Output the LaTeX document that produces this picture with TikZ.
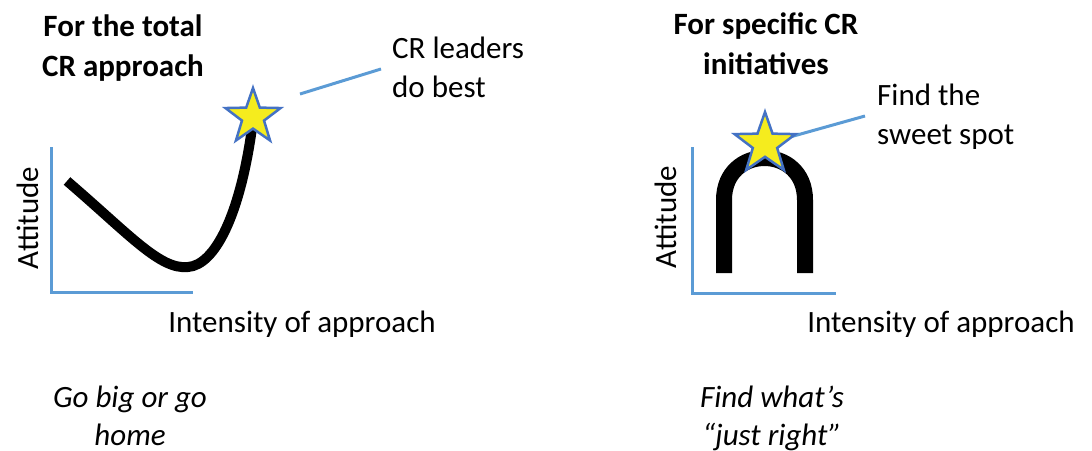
\documentclass[tikz,border=0pt]{standalone}
\usepackage{fontspec}
\setmainfont{Carlito}
\usetikzlibrary{shapes.geometric}
\definecolor{axisblue}{RGB}{91,155,213}
\definecolor{starblue}{RGB}{68,114,196}
\definecolor{staryellow}{RGB}{245,236,30}
\tikzset{
  txt/.style={inner sep=0pt, font=\fontsize{31}{39}\selectfont},
  title/.style={txt, font=\fontsize{31}{40}\selectfont\bfseries, align=center, anchor=base},
  note/.style={txt, align=left, anchor=base west},
  motto/.style={txt, font=\fontsize{31}{38}\selectfont\itshape, align=center, anchor=base},
  axis/.style={draw=axisblue, line width=3pt},
  leader/.style={draw=axisblue, line width=3pt},
  curve/.style={draw=black, line width=10pt},
  arch/.style={draw=black, line width=16pt},
  starnode/.style={star, star points=5, star point ratio=2.5, draw=starblue, line width=2.5pt, fill=staryellow, inner sep=0pt},
}
\begin{document}
\begin{tikzpicture}[x=1pt, y=-1pt]
\useasboundingbox (0,0) rectangle (1092,450);
% ---------- left panel ----------
\node[title] (ltitle) at (123,76) {For the total\\CR approach};
\node[note] (lnote) at (392,97) {CR leaders\\do best};
\coordinate (lorig) at (51,292);
\coordinate (ltop) at (51,147);
\coordinate (lright) at (193,292);
\draw[axis] (ltop) -- (lorig) -- (lright);
\node[txt, rotate=90] (lyl) at (28,218) {Attitude};
\node[txt, anchor=base] (lxl) at (302,332) {Intensity of approach};
\coordinate (c0) at (67,181);
\coordinate (c1) at (188,267);
\coordinate (c2) at (252,128);
\draw[curve] (c0) .. controls (130,235) and (160,270) .. (c1)
             .. controls (215,265) and (240,215) .. (c2);
\node[starnode, minimum size=58pt] (lstar) at (253,117) {};
\coordinate (la) at (300,94);
\coordinate (lb) at (381,69);
\draw[leader] (la) -- (lb);
\node[motto] (lmotto) at (130,445) {Go big or go\\home};
% ---------- right panel ----------
\node[title] (rtitle) at (766,74) {For specific CR\\initiatives};
\node[note] (rnote) at (877,144) {Find the\\sweet spot};
\coordinate (rorig) at (692,293);
\coordinate (rtop) at (692,147);
\coordinate (rright) at (836,293);
\draw[axis] (rtop) -- (rorig) -- (rright);
\node[txt, rotate=90] (ryl) at (666,217) {Attitude};
\node[txt, anchor=base] (rxl) at (941,332) {Intensity of approach};
\coordinate (a0) at (724,273);
\coordinate (a1) at (724,200);
\coordinate (a2) at (805,200);
\coordinate (a3) at (805,273);
\draw[arch] (a0) -- (a1) .. controls (724,144) and (805,144) .. (a2) -- (a3);
\coordinate (rb) at (865,116);
\draw[leader] (765,144) -- (rb);
\node[starnode, minimum size=64pt] (rstar) at (765,144) {};
\node[motto] (rmotto) at (772,445) {Find what’s\\“just right”};
\end{tikzpicture}
\end{document}
